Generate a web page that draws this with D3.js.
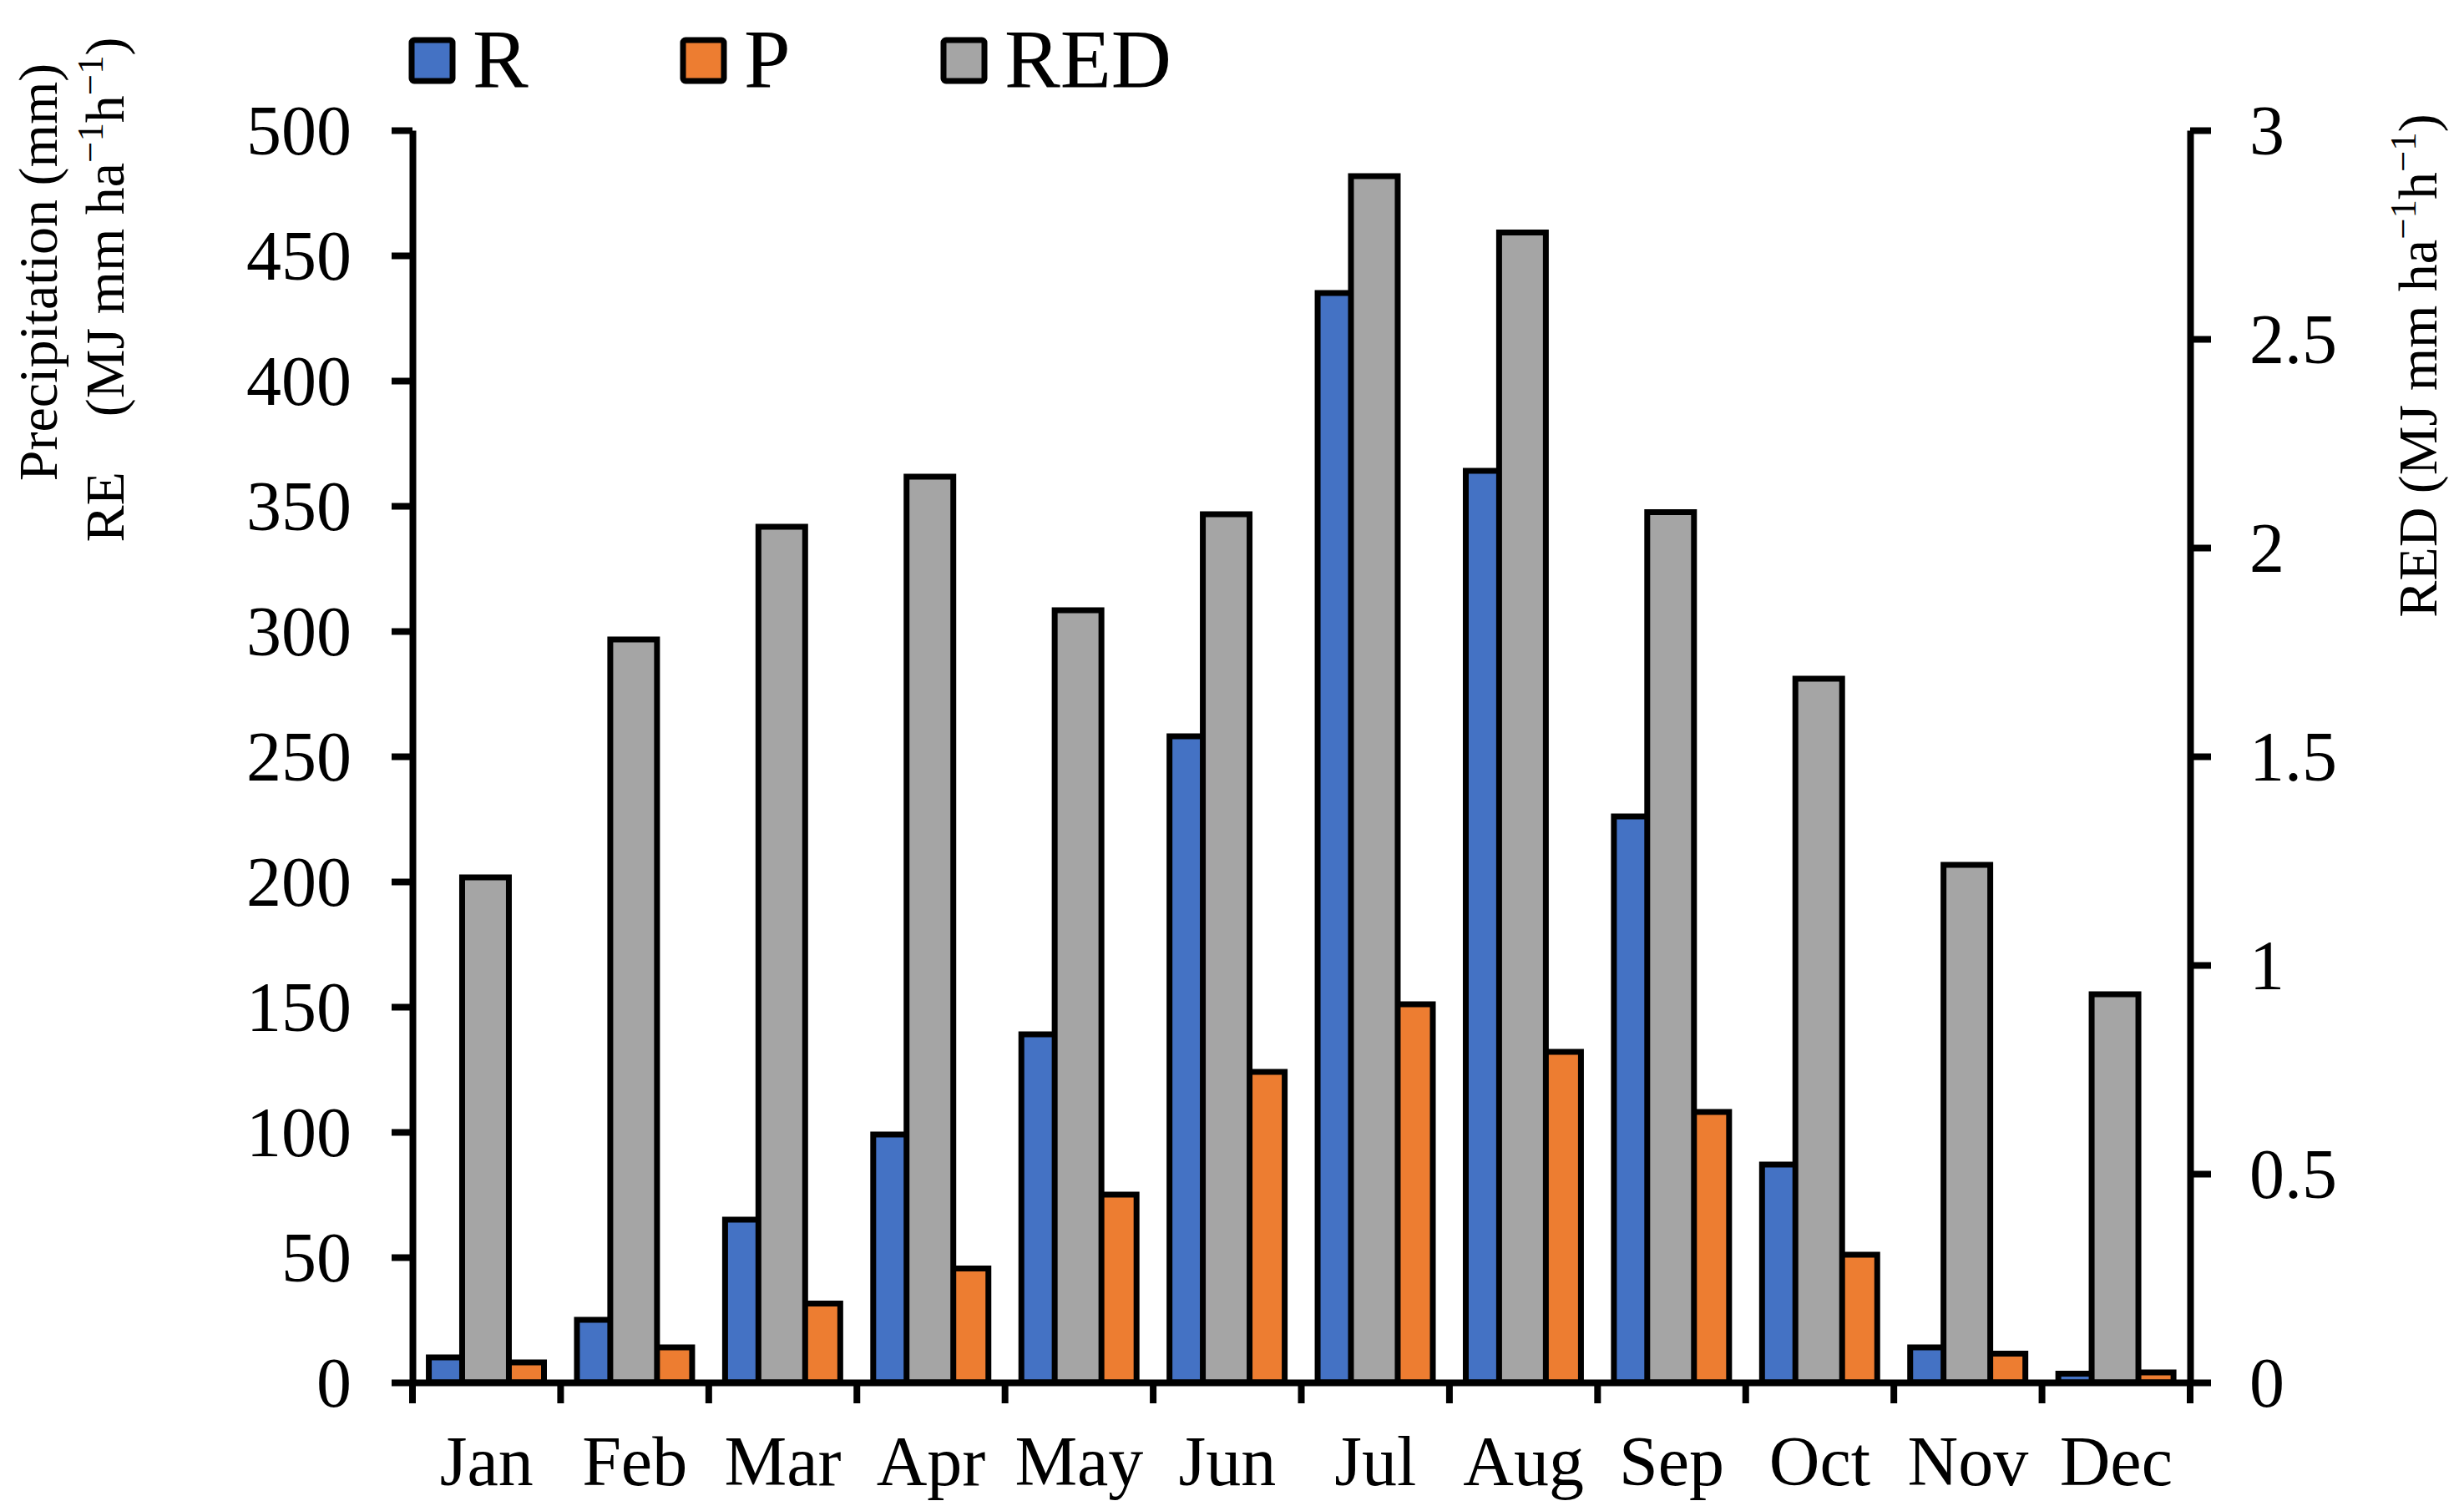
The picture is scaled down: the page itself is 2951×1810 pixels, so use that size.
<!DOCTYPE html>
<html>
<head>
<meta charset="utf-8">
<script src="https://cdn.jsdelivr.net/npm/d3@7"></script>
<style>
  body { margin: 0; background: #fff; }
  text { font-family: "Liberation Serif", "Times New Roman", serif; fill: #000; }
</style>
</head>
<body>
<svg id="chart"></svg>
<script>
// data
const months = ['Jan', 'Feb', 'Mar', 'Apr', 'May', 'Jun', 'Jul', 'Aug', 'Sep', 'Oct', 'Nov', 'Dec']
const R   = [10, 25, 65, 99, 139, 258, 435, 364, 226, 87, 14, 3.5]
const P   = [8, 14, 31.5, 45.5, 75, 124, 151, 132, 108, 51, 11.5, 4]
const RED = [1.21, 1.78, 2.05, 2.17, 1.85, 2.08, 2.89, 2.755, 2.085, 1.686, 1.24, 0.93]
const leftTicks = d3.range(0, 501, 50)
const rightTicks = [0, 0.5, 1, 1.5, 2, 2.5, 3]
const legendItems = ['R', 'P', 'RED']

const colors = { R: '#4472C4', P: '#ED7D31', RED: '#A5A5A5' }

const width = 2951, height = 1810
const margin = { top: 156, right: 328, bottom: 154, left: 494 }
const axisW = 8, barW = 7

const svg = d3.select('#chart')
  .attr('width', width)
  .attr('height', height)

const x = d3.scaleBand()
  .domain(months)
  .range([margin.left, width - margin.right])

const yL = d3.scaleLinear()
  .domain([0, 500])
  .range([height - margin.bottom, margin.top])

const yR = d3.scaleLinear()
  .domain([0, 3])
  .range([height - margin.bottom, margin.top])

const bw = x.bandwidth()
// bar geometry relative to band (outer width ~0.355 of band)
const barWidth = bw * 0.355 - barW
const offsets = { R: bw * 0.268, RED: bw * 0.493, P: bw * 0.730 }

function drawSeries(name, values, y) {
  svg.append('g')
    .selectAll('rect')
    .data(values)
    .join('rect')
      .attr('x', (d, i) => x(months[i]) + offsets[name] - barWidth / 2)
      .attr('y', d => y(d))
      .attr('width', barWidth)
      .attr('height', d => y(0) - y(d))
      .attr('fill', colors[name])
      .attr('stroke', '#000')
      .attr('stroke-width', barW)
}

drawSeries('R', R, yL)
drawSeries('P', P, yL)
drawSeries('RED', RED, yR)

// left axis
const leftAxis = svg.append('g')
  .attr('transform', `translate(${margin.left},0)`)
  .call(d3.axisLeft(yL).tickValues(leftTicks).tickSize(25).tickSizeOuter(0).tickPadding(48))
leftAxis.selectAll('text').style('font-size', '84px').attr('dy', '0.34em')

// right axis
const rightAxis = svg.append('g')
  .attr('transform', `translate(${width - margin.right},0)`)
  .call(d3.axisRight(yR).tickValues(rightTicks).tickSize(25).tickSizeOuter(0).tickPadding(46).tickFormat(d3.format('')))
rightAxis.selectAll('text').style('font-size', '84px').attr('dy', '0.34em')

// bottom axis, labels at band centres, ticks at band edges
const bottomAxis = svg.append('g')
  .attr('transform', `translate(0,${height - margin.bottom})`)
  .call(d3.axisBottom(x).tickSize(0).tickSizeOuter(0).tickPadding(63))
bottomAxis.selectAll('text').style('font-size', '84px')
bottomAxis.selectAll('.tick')
  .append('line')
    .attr('x1', -bw / 2).attr('x2', -bw / 2)
    .attr('y1', 0).attr('y2', 25)
    .attr('stroke', '#000')
bottomAxis.append('line')
  .attr('x1', width - margin.right).attr('x2', width - margin.right)
  .attr('y1', 0).attr('y2', 25)
  .attr('stroke', '#000')

svg.selectAll('.domain, .tick line, g > line')
  .attr('stroke', '#000')
  .attr('stroke-width', axisW)

// axis titles with superscripts
function title(parts, tx, ty, size) {
  const t = svg.append('text')
    .attr('transform', `translate(${tx},${ty}) rotate(-90)`)
    .attr('text-anchor', 'middle')
    .style('font-size', size + 'px')
  parts.forEach(p => {
    const s = t.append('tspan').text(p.t)
    if (p.sup) s.style('font-size', '0.68em').attr('dy', '-0.55em')
    if (p.down) s.attr('dy', '0.374em')
    if (p.dx) s.attr('dx', p.dx)
  })
}

title([{ t: 'Precipitation (mm)' }], 68, 326, 66)
title([
  { t: 'RE' },
  { t: '(MJ mm ha', dx: 66 },
  { t: '\u22121', sup: true },
  { t: 'h', down: true },
  { t: '\u22121', sup: true },
  { t: ')', down: true }
], 148, 347, 66)
title([
  { t: 'RED (MJ mm ha' },
  { t: '\u22121', sup: true },
  { t: 'h', down: true },
  { t: '\u22121', sup: true },
  { t: ')', down: true }
], 2918, 438, 66)

// legend
const legendX = [493, 818, 1130]
const legend = svg.append('g')
  .selectAll('g')
  .data(legendItems)
  .join('g')
    .attr('transform', (d, i) => `translate(${legendX[i]},48)`)
legend.append('rect')
  .attr('width', 49).attr('height', 49).attr('rx', 3)
  .attr('fill', d => colors[d])
  .attr('stroke', '#000')
  .attr('stroke-width', barW)
legend.append('text')
  .attr('x', 73).attr('y', 56)
  .style('font-size', '100px')
  .text(d => d)
</script>
</body>
</html>
